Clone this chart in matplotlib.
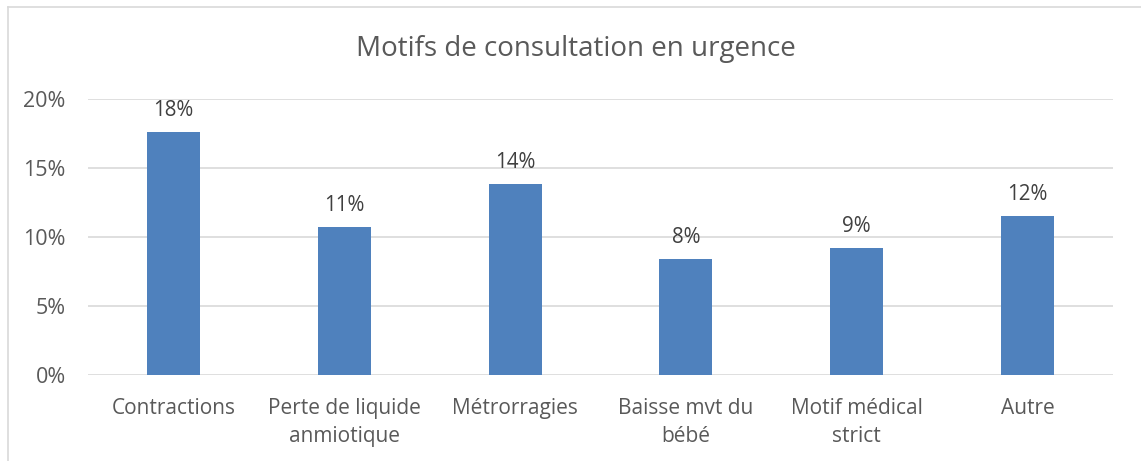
import matplotlib
matplotlib.use("Agg")
import matplotlib.pyplot as plt
from matplotlib.lines import Line2D
from matplotlib.ticker import PercentFormatter

categories = ["Contractions", "Perte de liquide\nanmiotique", "Métrorragies",
              "Baisse mvt du\nbébé", "Motif médical\nstrict", "Autre"]
values = [0.1764, 0.1073, 0.1382, 0.0841, 0.0919, 0.1149]
labels = ["18%", "11%", "14%", "8%", "9%", "12%"]
yticks = [0, 0.05, 0.10, 0.15, 0.20]

plt.rcParams['font.family'] = ['Open Sans', 'DejaVu Sans']
text_color = "#595959"

fig = plt.figure(figsize=(11.41, 4.61), dpi=100)
ax = fig.add_axes([0.0771, 0.1876, 0.8984, 0.597])

x = range(len(categories))
bars = ax.bar(x, values, width=0.31, color="#4f81bd", zorder=3)
for b, lab in zip(bars, labels):
    ax.annotate(lab, (b.get_x() + b.get_width() / 2, b.get_height()),
                xytext=(0, 8), textcoords="offset points", ha="center", va="bottom",
                fontsize=14.8, color="#404040")

ax.set_xlim(-0.5, len(categories) - 0.5)
ax.set_ylim(0, 0.20)
ax.set_yticks(yticks)
ax.yaxis.set_major_formatter(PercentFormatter(1.0, decimals=0))
ax.set_xticks(list(x))
ax.set_xticklabels(categories, fontsize=15, color=text_color, linespacing=1.4)
ax.tick_params(axis="y", labelsize=15.5, labelcolor=text_color, length=0, pad=16)
ax.tick_params(axis="x", length=0, pad=17)
ax.grid(axis="y", color="#d9d9d9", linewidth=1.2, zorder=0)
for s in ax.spines.values():
    s.set_visible(False)

fig.suptitle("Motifs de consultation en urgence", x=0.505, y=1 - 49 / 461, va="center",
             fontsize=20, color=text_color)

# chart frame (partly cut off at right and bottom)
fig.add_artist(Line2D([8 / 1141, 1], [1 - 7 / 461] * 2, transform=fig.transFigure,
                      color="#d9d9d9", linewidth=1.2))
fig.add_artist(Line2D([8 / 1141] * 2, [0, 1 - 7 / 461], transform=fig.transFigure,
                      color="#d9d9d9", linewidth=1.2))

fig.savefig("out.png", dpi=100)
